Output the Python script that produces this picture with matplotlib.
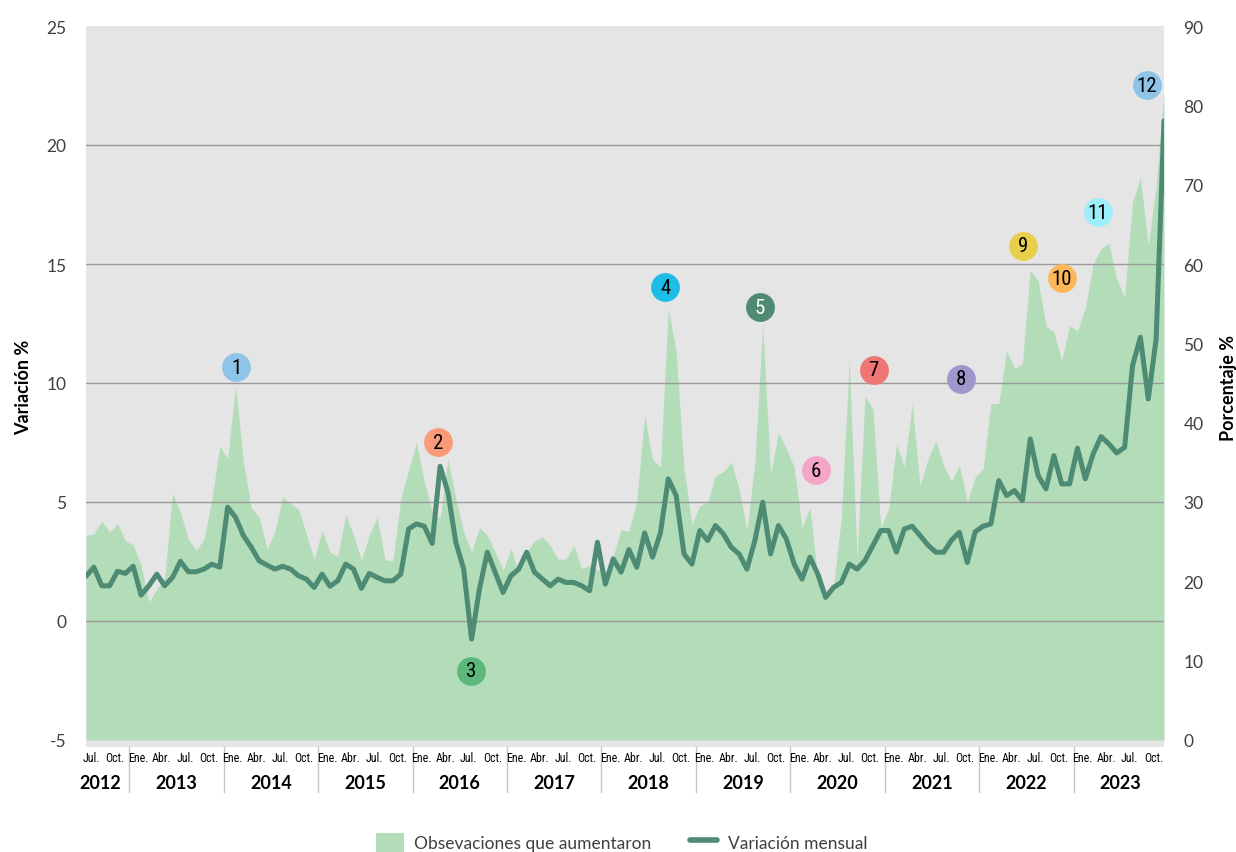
import matplotlib
matplotlib.use('Agg')
import matplotlib.pyplot as plt
import matplotlib.transforms as mtransforms
from matplotlib.patches import Patch
from matplotlib.lines import Line2D

plt.rcParams['font.family'] = ['Lato', 'DejaVu Sans']
plt.rcParams['axes.unicode_minus'] = False

# monthly series, Jul 2012 .. Dec 2023
start_year, start_month = 2012, 7
variacion = [
    1.88, 2.26, 1.48, 1.48, 2.09, 2.00,                                  # 2012
    2.30, 1.09, 1.48, 1.97, 1.48, 1.83, 2.51, 2.07, 2.07, 2.18, 2.39, 2.26,  # 2013
    4.78, 4.36, 3.59, 3.10, 2.53, 2.35, 2.18, 2.30, 2.18, 1.90, 1.76, 1.41,  # 2014
    1.97, 1.46, 1.69, 2.39, 2.18, 1.37, 2.00, 1.83, 1.69, 1.69, 1.97, 3.87,  # 2015
    4.08, 3.98, 3.26, 6.50, 5.41, 3.31, 2.18, -0.76, 1.34, 2.89, 2.05, 1.20,  # 2016
    1.90, 2.18, 2.89, 2.05, 1.76, 1.48, 1.76, 1.62, 1.62, 1.48, 1.27, 3.31,  # 2017
    1.55, 2.61, 2.05, 3.00, 2.26, 3.70, 2.68, 3.70, 5.97, 5.27, 2.82, 2.39,  # 2018
    3.80, 3.38, 4.01, 3.66, 3.10, 2.82, 2.18, 3.38, 4.99, 2.82, 4.01, 3.45,  # 2019
    2.39, 1.76, 2.68, 1.97, 0.99, 1.41, 1.62, 2.39, 2.18, 2.54, 3.17, 3.80,  # 2020
    3.80, 2.89, 3.87, 3.98, 3.59, 3.19, 2.89, 2.89, 3.40, 3.73, 2.46, 3.75,  # 2021
    3.98, 4.08, 5.90, 5.27, 5.48, 5.06, 7.65, 6.11, 5.55, 6.95, 5.76, 5.76,  # 2022
    7.26, 5.97, 7.02, 7.75, 7.44, 7.06, 7.30, 10.73, 11.92, 9.33, 11.85, 21.02,  # 2023
]
porcentaje = [
    25.8, 26.0, 27.6, 26.2, 27.3, 25.1,
    24.6, 22.0, 17.4, 19.0, 20.5, 31.1, 28.7, 25.3, 23.9, 25.3, 30.4, 37.0,
    35.5, 44.7, 35.0, 29.3, 28.1, 24.1, 26.2, 30.7, 29.8, 29.1, 26.0, 22.7,
    26.4, 23.7, 23.1, 28.4, 25.8, 22.7, 25.8, 28.1, 22.7, 22.6, 30.4, 34.0,
    37.5, 32.5, 28.9, 27.9, 35.4, 30.4, 26.2, 23.7, 26.8, 25.8, 23.7, 21.4,
    24.1, 21.1, 23.7, 25.1, 25.6, 24.5, 22.8, 22.8, 24.5, 21.6, 22.0, 21.4,
    21.1, 23.2, 26.5, 26.3, 30.2, 40.9, 35.4, 34.4, 54.4, 48.9, 34.2, 27.2,
    29.5, 30.0, 33.3, 33.8, 35.0, 31.7, 26.4, 35.0, 52.2, 33.5, 38.8, 36.7,
    34.4, 26.8, 29.3, 20.3, 17.6, 19.3, 28.0, 47.8, 22.8, 43.4, 41.7, 26.8,
    29.1, 37.2, 34.4, 42.4, 32.1, 35.4, 37.7, 34.6, 32.6, 34.7, 30.0, 33.1,
    34.2, 42.4, 42.4, 49.1, 46.8, 47.4, 59.2, 57.9, 52.2, 51.4, 47.8, 52.2,
    51.6, 54.4, 60.0, 61.9, 62.6, 58.1, 55.8, 67.8, 70.9, 62.3, 69.9, 81.7,
]
years = list(range(2012, 2024))
month_labels = ['Ene.', 'Abr.', 'Jul.', 'Oct.']

# numbered markers: month index, left-axis value, colour
marker_ids = [str(n) for n in range(1, 13)]
marker_x = [19.1, 44.7, 48.9, 73.6, 85.6, 92.8, 100.1, 111.2, 119.1, 124.0, 128.6, 134.8]
marker_y = [10.67, 7.52, -2.10, 14.03, 13.19, 6.34, 10.55, 10.17, 15.76, 14.41, 17.18, 22.52]
marker_colors = ['#8fc3e8', '#f99b78', '#5cb87a', '#1ebde5', '#4e8b72', '#f5a5c8',
                 '#f07575', '#9f97cc', '#e8cf4a', '#fdb759', '#9eeefc', '#8fc3e8']

area_color = '#b3dcb9'
line_color = '#4e8b74'
text_color = '#404040'
narrow = ['Liberation Sans Narrow', 'Roboto Condensed', 'Roboto', 'DejaVu Sans']

x = list(range(len(variacion)))

W, H = 1236, 853
fig = plt.figure(figsize=(W / 100, H / 100), dpi=100)
left_px, right_px, top_px, bot_px = 86, 1164, 27, 748
ax = fig.add_axes([left_px / W, 1 - bot_px / H, (right_px - left_px) / W, (bot_px - top_px) / H])
ax2 = ax.twinx()

# area on the right axis, drawn underneath
ax2.fill_between(x, 0, porcentaje, color=area_color, linewidth=0)
ax2.patch.set_visible(True)
ax2.patch.set_facecolor('#e5e5e5')
ax.set_zorder(ax2.get_zorder() + 1)
ax.patch.set_visible(False)

# line on the left axis
for t in range(0, 21, 5):
    ax.axhline(t, color='#9a9a9a', lw=1, zorder=1)
ax.plot(x, variacion, color=line_color, lw=3.6, solid_joinstyle='round',
        solid_capstyle='round', zorder=3)

px_left = 30 / 714
ax.set_ylim(-5 - 7 * px_left, 25)
ax2.set_ylim(-7 * 90 / 714, 90)
ax.set_xlim(0, len(x) - 1)
ax.set_yticks(range(-5, 26, 5))
ax2.set_yticks(range(0, 91, 10))
ax.tick_params(axis='y', length=0, pad=14, labelsize=12.5, labelcolor=text_color)
ax2.tick_params(axis='y', length=0, pad=14, labelsize=12.5, labelcolor=text_color)
ax.set_xticks([])
for a in (ax, ax2):
    for s in a.spines.values():
        s.set_visible(False)

ax.set_ylabel('Variación %', fontsize=13, fontweight='bold', color='black', labelpad=10)
ax2.set_ylabel('Porcentaje %', fontsize=13, fontweight='bold', color='black', labelpad=12)

# numbered circles
for lab, mx, my, c in zip(marker_ids, marker_x, marker_y, marker_colors):
    ax.scatter([mx], [my], s=430, color=c, zorder=5, linewidths=0, clip_on=False)
    ax.text(mx, my, lab, ha='center', va='center', fontsize=15, zorder=6,
            color='white' if lab == '5' else 'black', family=narrow)

# month / year axis
trans = mtransforms.blended_transform_factory(ax.transData, ax.transAxes)
idx = 0
for yr in years:
    first = 1 if yr != start_year else start_month
    jan = idx - (first - 1)
    for k, ml in enumerate(month_labels):
        m = 1 + 3 * k
        if m >= first:
            ax.text(jan + m - 1 + 0.65, -0.014, ml, transform=trans, ha='center', va='center',
                    fontsize=8.6, color='black', family=narrow)
    if yr == start_year:
        xc = 1.8
    else:
        xc = jan + 5.5
        ax.plot([jan - 0.5, jan - 0.5], [0, -0.063], transform=trans, color='#c4c4c4',
                lw=1, clip_on=False)
    ax.text(xc, -0.049, str(yr), transform=trans, ha='center', va='center',
            fontsize=13, fontweight='bold', color='black')
    idx = jan + 12

handles = [Patch(facecolor=area_color, edgecolor='none'),
           Line2D([], [], color=line_color, lw=4, solid_capstyle='round')]
fig.legend(handles, ['Obsevaciones que aumentaron', 'Variación mensual'],
           loc='center', bbox_to_anchor=(0.503, 0.011), ncol=2, frameon=False,
           fontsize=12.5, labelcolor=text_color, handlelength=1.6, handleheight=1.4,
           columnspacing=2.2, handletextpad=0.6)

fig.savefig('out.png', dpi=100)
